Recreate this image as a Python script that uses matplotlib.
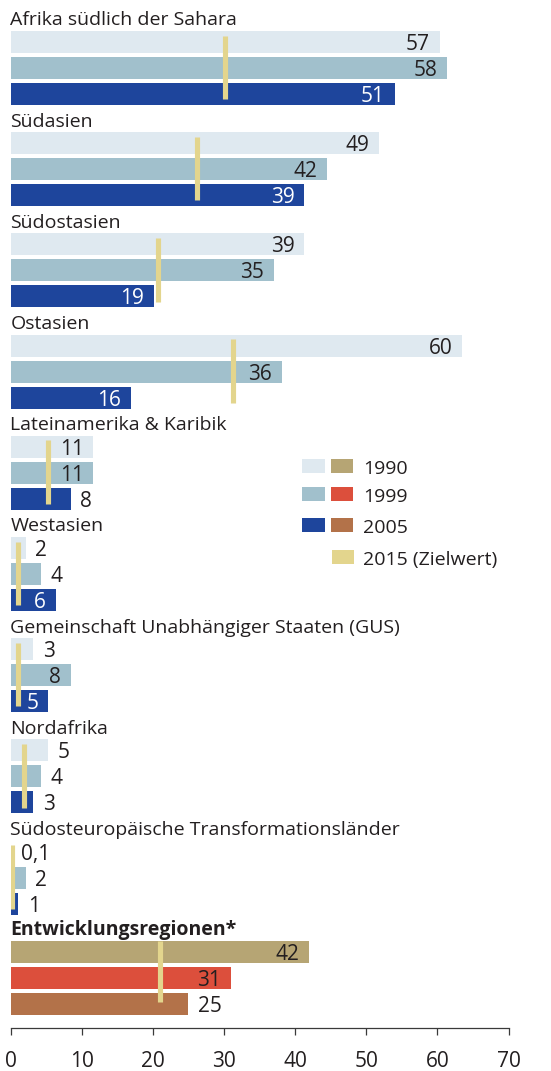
import matplotlib
matplotlib.use("Agg")
import matplotlib.pyplot as plt
from matplotlib.patches import Rectangle

plt.rcParams['font.family'] = ['Open Sans', 'DejaVu Sans']

# ---------------- data ----------------
regions = ["Afrika südlich der Sahara", "Südasien", "Südostasien", "Ostasien",
           "Lateinamerika & Karibik", "Westasien",
           "Gemeinschaft Unabhängiger Staaten (GUS)", "Nordafrika",
           "Südosteuropäische Transformationsländer"]
v1990 = [57, 49, 39, 60, 11, 2, 3, 5, 0.1]
v1999 = [58, 42, 35, 36, 11, 4, 8, 4, 2]
v2005 = [51, 39, 19, 16, 8, 6, 5, 3, 1]
target2015 = [28.5, 24.8, 19.6, 29.5, 5, 1, 1, 1.8, 0.2]

agg_name = "Entwicklungsregionen*"
agg_values = [42, 31, 25]
agg_target = 21

legend_labels = ["1990", "1999", "2005", "2015 (Zielwert)"]
xticks = [0, 10, 20, 30, 40, 50, 60, 70]

# label placement (style): inside / outside the bar
place_1990 = ['in', 'in', 'in', 'in', 'in', 'out', 'out', 'out', 'out']
place_1999 = ['in', 'in', 'in', 'in', 'in', 'out', 'in', 'out', 'out']
place_2005 = ['in', 'in', 'in', 'in', 'out', 'in', 'in', 'out', 'out']
place_agg = ['in', 'in', 'out']

# ---------------- style ----------------
C_REG = ["#dfe9f0", "#a1c0cc", "#1e459c"]
C_AGG = ["#b6a574", "#dc4f3c", "#b37249"]
C_TGT = "#e3d58d"
TXT = "#231f20"
FS = 14
FS_NUM = 15

W, H = 551, 1071
fig = plt.figure(figsize=(W / 100, H / 100), dpi=100)


def fax(left, top, width, height):
    return fig.add_axes([left / W, 1 - (top + height) / H, width / W, height / H])


X0, AXW = 10.5, 498
PITCH = 26.0
GROUP = 101.2 / PITCH
BAR_H = 0.85

ax_top = fax(X0, 0, AXW, 920)
ax_bot = fax(X0, 920, AXW, 108)

ax_top.set_xlim(0, AXW / 7.53)
ax_top.set_ylim((920 - 42) / PITCH, -42 / PITCH)
ax_bot.set_xlim(0, 70)
ax_bot.set_ylim((1028 - 952) / PITCH, (920 - 952) / PITCH)


def fmt(v):
    return f"{v:g}".replace('.', ',')


def draw_group(ax, base, name, vals, cols, tgt, places, txtcols, bold=False,
               tspan=(-0.25, 2.2)):
    ys = [base + k for k in range(len(vals))]
    ax.barh(ys, vals, height=BAR_H, color=cols, zorder=1)
    ax.plot([tgt, tgt], [base + tspan[0], base + tspan[1]], color=C_TGT, lw=3.7,
            solid_capstyle='butt', zorder=3)
    ax.text(0, base - 0.64, name, ha='left', va='baseline', fontsize=FS,
            color=TXT, fontweight='bold' if bold else 'normal', clip_on=False)
    for y, v, p, tc in zip(ys, vals, places, txtcols):
        if p == 'in':
            off, ha, c = -7, 'right', tc
        else:
            off, ha, c = 7, 'left', TXT
        ax.annotate(fmt(v), xy=(v, y + 0.31), xytext=(off, 0),
                    textcoords='offset points', ha=ha, va='baseline',
                    fontsize=FS_NUM, color=c, zorder=4, annotation_clip=False)


for g, name in enumerate(regions):
    draw_group(ax_top, g * GROUP, name, [v1990[g], v1999[g], v2005[g]], C_REG,
               target2015[g], [place_1990[g], place_1999[g], place_2005[g]],
               [TXT, TXT, "white"])

draw_group(ax_bot, 0, agg_name, agg_values, C_AGG, agg_target, place_agg,
           [TXT, TXT, TXT], bold=True, tspan=(-0.43, 1.92))

for s in ax_top.spines.values():
    s.set_visible(False)
ax_top.set_xticks([])
ax_top.set_yticks([])
ax_top.patch.set_alpha(0)

for k in ['top', 'right', 'left']:
    ax_bot.spines[k].set_visible(False)
ax_bot.spines['bottom'].set_color("#3a3a3a")
ax_bot.spines['bottom'].set_linewidth(0.9)
ax_bot.set_yticks([])
ax_bot.set_xticks(xticks)
ax_bot.set_xticklabels([str(t) for t in xticks])
ax_bot.tick_params(axis='x', direction='out', length=5, width=0.9,
                   color="#3a3a3a", pad=11.5, labelsize=FS_NUM, labelcolor=TXT)
ax_bot.patch.set_alpha(0)

# ---------------- legend (manual) ----------------
lax = fig.add_axes([0, 0, 1, 1])
lax.set_xlim(0, W)
lax.set_ylim(H, 0)
lax.axis('off')
lax.patch.set_alpha(0)
row_c = [465.5, 494, 524.5, 557]
sw_w, sw_h = 23, 14
for i, lab in enumerate(legend_labels):
    cy = row_c[i]
    if i < 3:
        lax.add_patch(Rectangle((302, cy - sw_h / 2), sw_w, sw_h, color=C_REG[i], lw=0))
        lax.add_patch(Rectangle((331, cy - sw_h / 2), sw_w - 1, sw_h, color=C_AGG[i], lw=0))
    else:
        lax.add_patch(Rectangle((332, cy - sw_h / 2), sw_w - 1, sw_h, color=C_TGT, lw=0))
    lax.text(363, cy + 8.5, lab, ha='left', va='baseline', fontsize=FS, color=TXT)

fig.savefig("out.png", dpi=100)
